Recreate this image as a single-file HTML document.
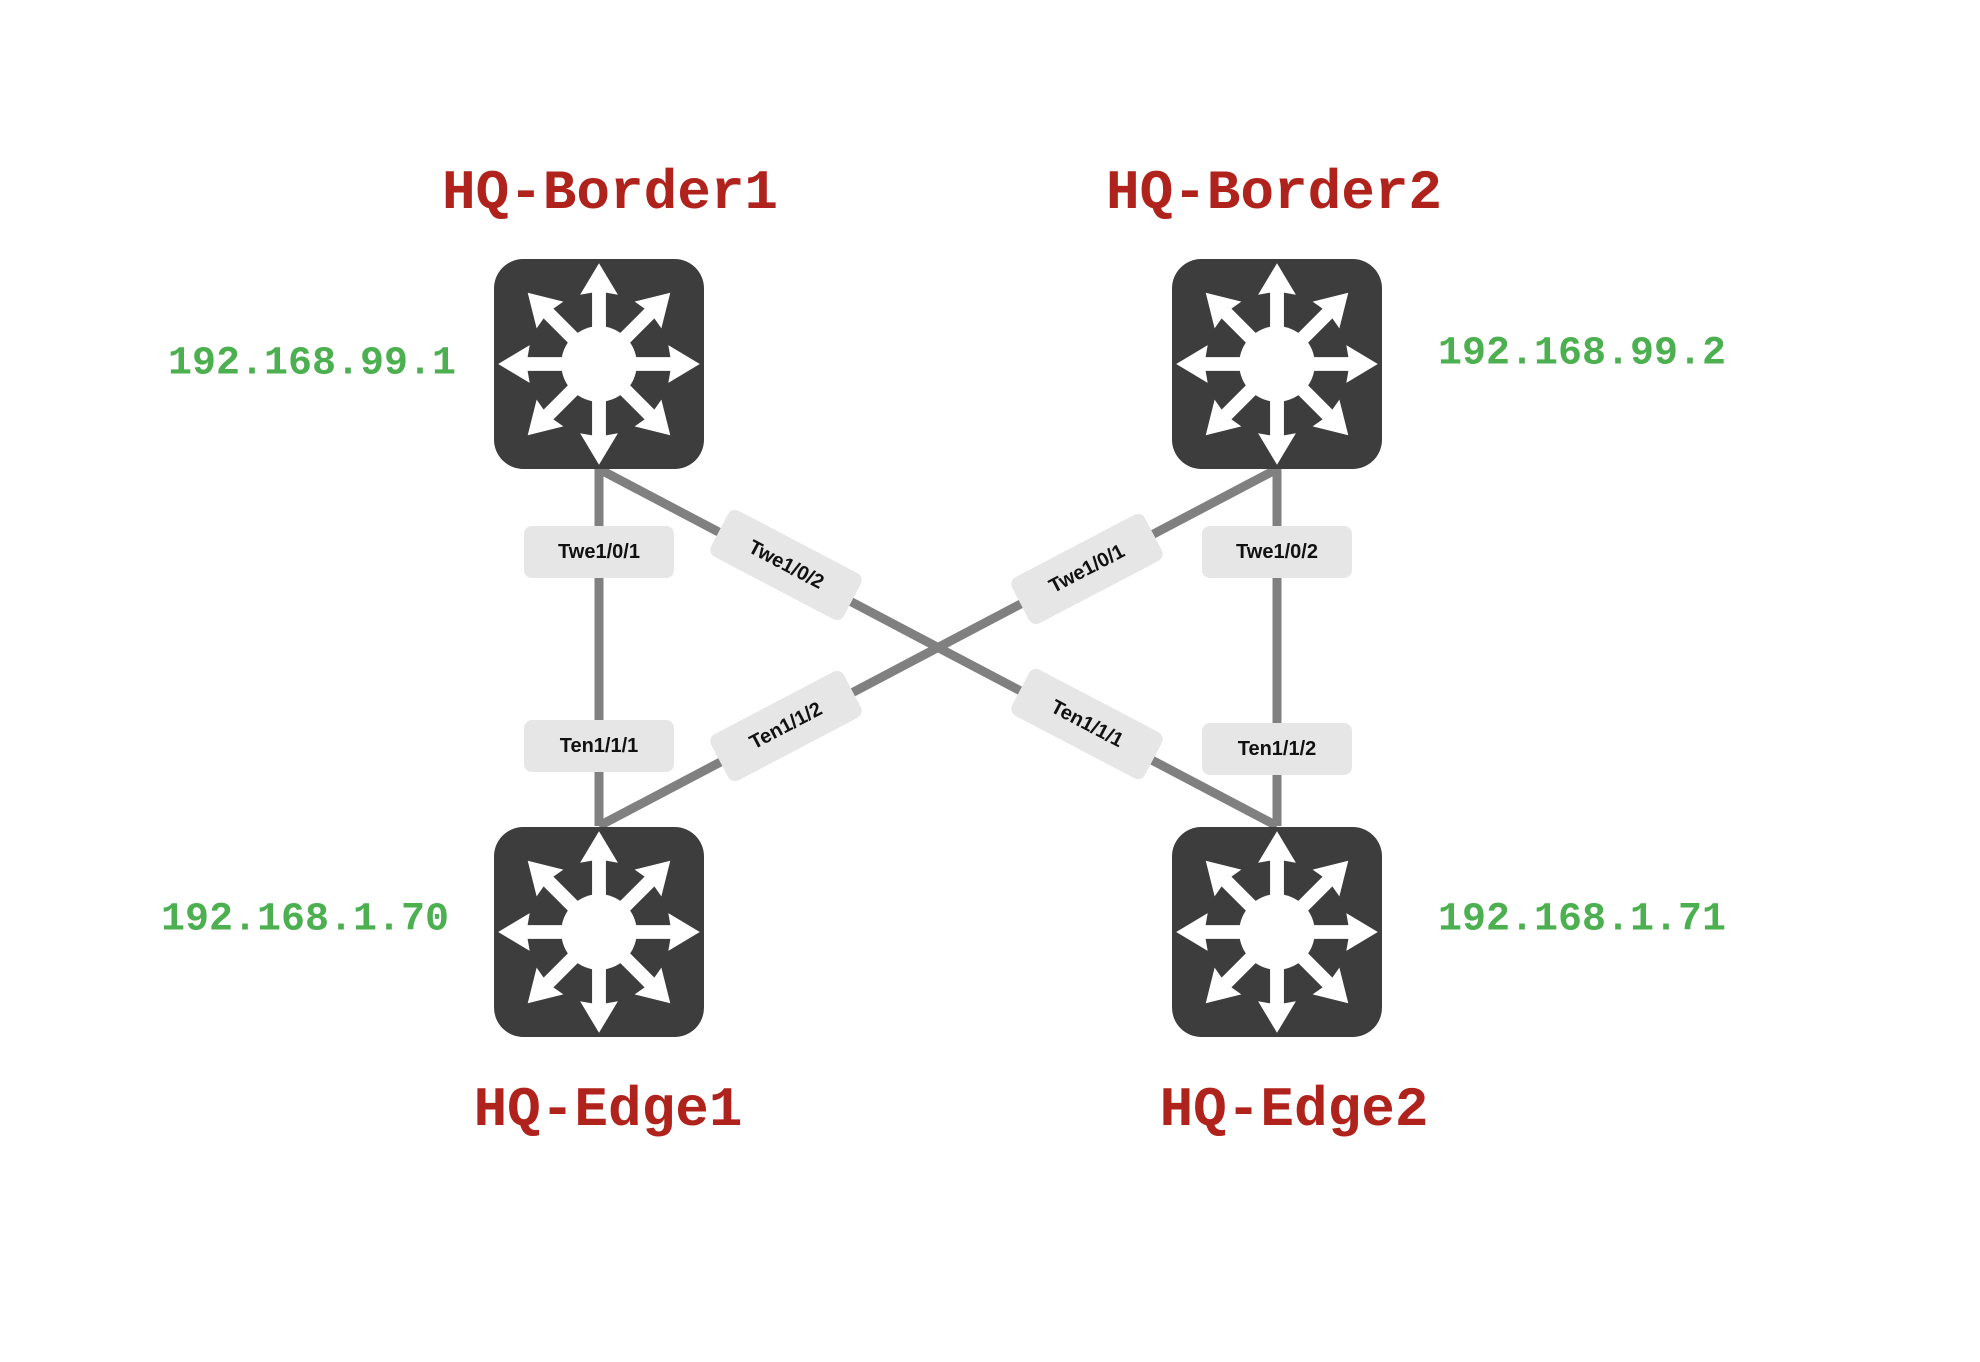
<!DOCTYPE html>
<html><head><meta charset="utf-8"><style>
html,body{margin:0;padding:0;background:#fff;}
svg{display:block}
.t{font-family:"Liberation Mono",monospace;font-weight:bold;font-size:56px;fill:#b0231c;text-anchor:middle;dominant-baseline:central}
.ip{font-family:"Liberation Mono",monospace;font-weight:bold;font-size:40px;fill:#4caf50;text-anchor:middle;dominant-baseline:central}
.l{font-family:"Liberation Sans",sans-serif;font-weight:bold;font-size:20px;fill:#111;text-anchor:middle;dominant-baseline:central}
</style></head><body>
<svg width="1980" height="1362" viewBox="0 0 1980 1362" xmlns="http://www.w3.org/2000/svg">
<defs>
<g id="arr"><path d="M-3.3 0 L-3.3 -34 L-9 -33 L0 -48 L9 -33 L3.3 -34 L3.3 0 Z" fill="#fff"/></g>
<g id="sw">
<rect x="-50" y="-50" width="100" height="100" rx="14" fill="#3d3d3d"/>
<use href="#arr"/><use href="#arr" transform="rotate(45)"/><use href="#arr" transform="rotate(90)"/><use href="#arr" transform="rotate(135)"/>
<use href="#arr" transform="rotate(180)"/><use href="#arr" transform="rotate(225)"/><use href="#arr" transform="rotate(270)"/><use href="#arr" transform="rotate(315)"/>
<circle r="18" fill="#fff"/>
</g>
<g id="lb"><rect x="-75" y="-26" width="150" height="52" rx="8" fill="#e6e6e6"/></g>
</defs>
<g stroke="#808080" stroke-width="9" fill="none">
<line x1="599" y1="469" x2="599" y2="826"/>
<line x1="1277" y1="469" x2="1277" y2="826"/>
<line x1="599" y1="469" x2="1277" y2="826"/>
<line x1="1277" y1="469" x2="599" y2="826"/>
</g>
<g transform="translate(599,364) scale(2.1)"><use href="#sw"/></g>
<g transform="translate(1277,364) scale(2.1)"><use href="#sw"/></g>
<g transform="translate(599,932) scale(2.1)"><use href="#sw"/></g>
<g transform="translate(1277,932) scale(2.1)"><use href="#sw"/></g>

<g transform="translate(599,552)"><use href="#lb"/><text class="l">Twe1/0/1</text></g>
<g transform="translate(599,746)"><use href="#lb"/><text class="l">Ten1/1/1</text></g>
<g transform="translate(1277,552)"><use href="#lb"/><text class="l">Twe1/0/2</text></g>
<g transform="translate(1277,749)"><use href="#lb"/><text class="l">Ten1/1/2</text></g>
<g transform="translate(786,565) rotate(27.7)"><use href="#lb"/><text class="l">Twe1/0/2</text></g>
<g transform="translate(1087,569) rotate(-27.7)"><use href="#lb"/><text class="l">Twe1/0/1</text></g>
<g transform="translate(786,726) rotate(-27.7)"><use href="#lb"/><text class="l">Ten1/1/2</text></g>
<g transform="translate(1087,724) rotate(27.7)"><use href="#lb"/><text class="l">Ten1/1/1</text></g>

<text class="t" x="610" y="193">HQ-Border1</text>
<text class="t" x="1274" y="193">HQ-Border2</text>
<text class="t" x="608" y="1110">HQ-Edge1</text>
<text class="t" x="1294" y="1110">HQ-Edge2</text>
<text class="ip" x="312" y="364">192.168.99.1</text>
<text class="ip" x="1582" y="354">192.168.99.2</text>
<text class="ip" x="305" y="920">192.168.1.70</text>
<text class="ip" x="1582" y="920">192.168.1.71</text>
</svg>
</body></html>
